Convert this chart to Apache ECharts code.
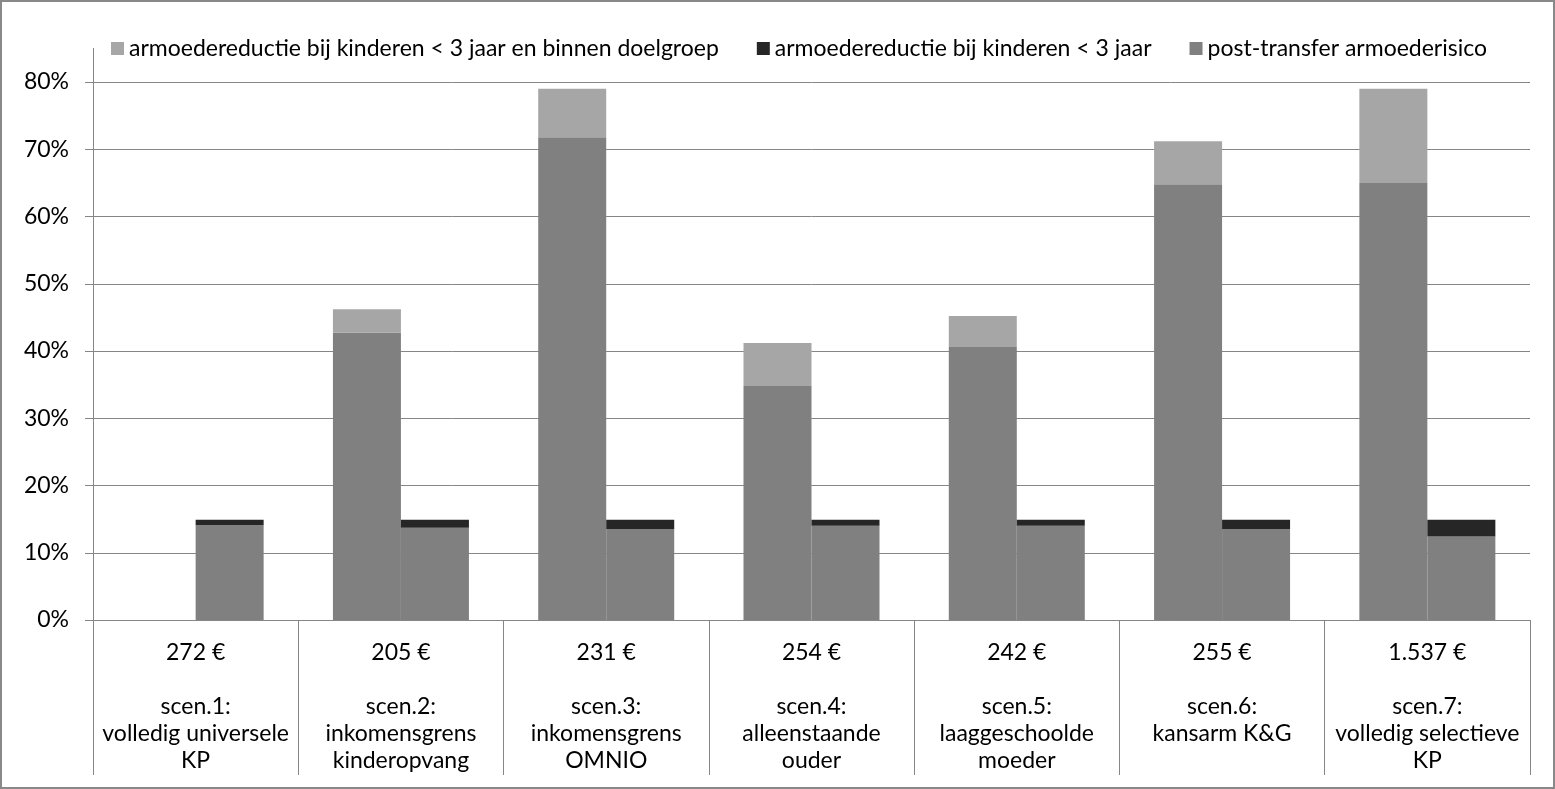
<!DOCTYPE html>
<html>
<head>
<meta charset="utf-8">
<script src="https://cdn.jsdelivr.net/npm/echarts@6/dist/echarts.min.js"></script>
<style>
  html, body { margin: 0; padding: 0; background: #fff; }
  #chart { width: 1555px; height: 789px; }
  #frame { position: absolute; left: 0; top: 0; width: 1555px; height: 789px;
           box-sizing: border-box; border: 2px solid #898989; pointer-events: none; }
</style>
</head>
<body>
<div id="chart"></div>
<div id="frame"></div>
<script>
var costs = ['272 €', '205 €', '231 €', '254 €', '242 €', '255 €', '1.537 €'];
var scenarios = [
    'scen.1:\nvolledig universele\nKP',
    'scen.2:\ninkomensgrens\nkinderopvang',
    'scen.3:\ninkomensgrens\nOMNIO',
    'scen.4:\nalleenstaande\nouder',
    'scen.5:\nlaaggeschoolde\nmoeder',
    'scen.6:\nkansarm K&G',
    'scen.7:\nvolledig selectieve\nKP'
];
// left bar: target group
var postTransferGroup = [null, 42.7, 71.8, 34.8, 40.6, 64.8, 65.0];
var reductionGroup = [null, 3.5, 7.2, 6.4, 4.6, 6.4, 14.0];
// right bar: children < 3
var postTransferKids = [14.1, 13.7, 13.5, 14.0, 14.0, 13.5, 12.4];
var reductionKids = [0.8, 1.2, 1.4, 0.9, 0.9, 1.4, 2.5];
var yTicks = [0, 10, 20, 30, 40, 50, 60, 70, 80];

var nameGroup = 'armoedereductie bij kinderen < 3 jaar en binnen doelgroep';
var nameKids = 'armoedereductie bij kinderen < 3 jaar';
var namePost = 'post-transfer armoederisico';

var categories = costs.map(function (c, i) { return c + '\n\n' + scenarios[i]; });
var font = 'Lato';
var fs = 23;
var axisGrey = '#868686';

var chart = echarts.init(document.getElementById('chart'));
chart.setOption({
    animation: false,
    textStyle: { fontFamily: font },
    legend: {
        data: [nameGroup, nameKids, namePost],
        top: 32,
        left: 106,
        itemWidth: 13,
        itemHeight: 13,
        itemGap: 38,
        icon: 'rect',
        textStyle: { fontSize: fs, color: '#000', fontFamily: font }
    },
    grid: { left: 93, right: 25, top: 82, bottom: 169 },
    xAxis: {
        type: 'category',
        data: categories,
        axisLine: { lineStyle: { color: axisGrey } },
        axisTick: { show: true, interval: 0, inside: false, length: 155, lineStyle: { color: axisGrey } },
        axisLabel: { interval: 0, margin: 19, fontSize: fs, lineHeight: 27, color: '#000', fontFamily: font }
    },
    yAxis: {
        type: 'value',
        min: yTicks[0],
        max: yTicks[yTicks.length - 1],
        interval: 10,
        axisLine: { show: true, lineStyle: { color: axisGrey } },
        axisTick: { show: true, length: 8, lineStyle: { color: axisGrey } },
        splitLine: { lineStyle: { color: axisGrey } },
        axisLabel: { formatter: '{value}%', margin: 24, fontSize: fs, color: '#000', fontFamily: font }
    },
    graphic: [{
        type: 'line',
        shape: { x1: 93.5, y1: 48, x2: 93.5, y2: 82 },
        style: { stroke: axisGrey, lineWidth: 1 }
    }],
    series: [
        { name: namePost, type: 'bar', stack: 'group', data: postTransferGroup,
          barWidth: 68, barGap: '0%', itemStyle: { color: '#808080' } },
        { name: nameGroup, type: 'bar', stack: 'group', data: reductionGroup,
          barWidth: 68, barGap: '0%', itemStyle: { color: '#a6a6a6' } },
        { name: namePost, type: 'bar', stack: 'kids', data: postTransferKids,
          barWidth: 68, barGap: '0%', itemStyle: { color: '#808080' } },
        { name: nameKids, type: 'bar', stack: 'kids', data: reductionKids,
          barWidth: 68, barGap: '0%', itemStyle: { color: '#262626' } }
    ]
});
</script>
</body>
</html>
